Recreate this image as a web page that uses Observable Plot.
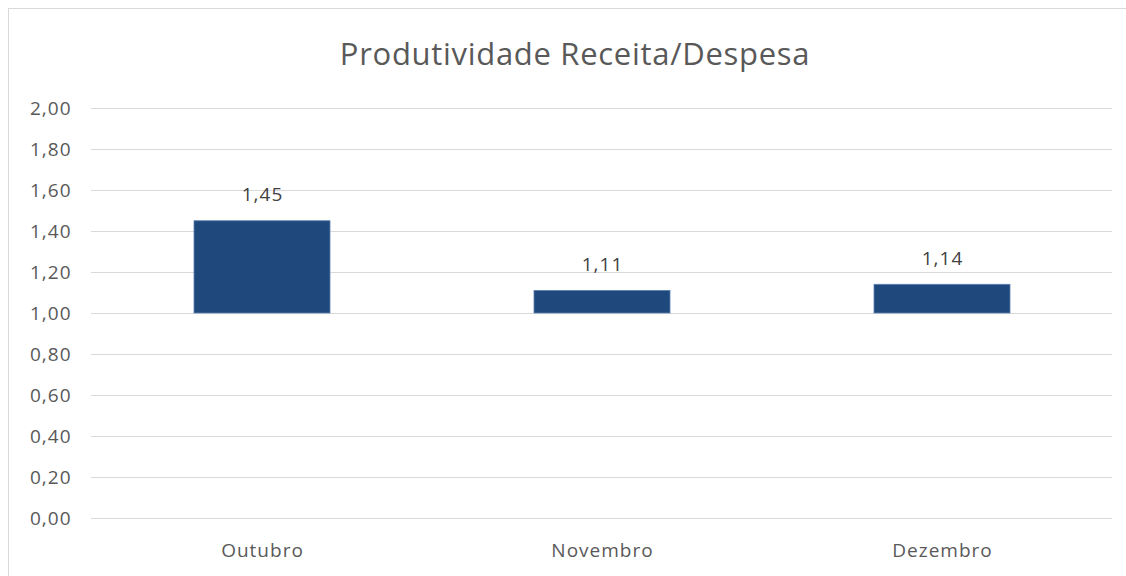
<!DOCTYPE html>
<html>
<head>
<meta charset="utf-8">
<script src="https://cdn.jsdelivr.net/npm/d3@7"></script>
<script src="https://cdn.jsdelivr.net/npm/@observablehq/plot@0.6"></script>
<style>
  html, body { margin: 0; padding: 0; background: #fff; width: 1126px; height: 576px; overflow: hidden; }
  #frame { position: absolute; left: 8px; top: 8px; width: 1200px; height: 600px; border: 1.5px solid #d9d9d9; box-sizing: border-box; }
  #title { position: absolute; left: 0; top: 32px; width: 1150px; text-align: center; font-family: "Open Sans", sans-serif; font-size: 31px; letter-spacing: 0.7px; color: #595959; line-height: 42px; }
  #chart { position: absolute; left: 0; top: 88px; }
</style>
</head>
<body>
<div id="frame"></div>
<div id="title">Produtividade Receita/Despesa</div>
<div id="chart"></div>
<script>
const months = ["Outubro", "Novembro", "Dezembro"];
const values = [1.45, 1.11, 1.14];
const yTicks = [0, 0.2, 0.4, 0.6, 0.8, 1.0, 1.2, 1.4, 1.6, 1.8, 2.0];
const baseline = 1.0;

const data = months.map((m, i) => ({month: m, value: values[i]}));
const fmt = d => d.toFixed(2).replace(".", ",");

const chart = Plot.plot({
  width: 1126,
  height: 488,
  marginTop: 20,
  marginBottom: 58,
  marginLeft: 91,
  marginRight: 14,
  style: {fontFamily: "Open Sans, sans-serif", fontSize: "19px", color: "#595959", background: "transparent", letterSpacing: "1px"},
  x: {domain: months, paddingInner: 0.6, paddingOuter: 0.3, label: null},
  y: {domain: [0, 2], ticks: yTicks, label: null},
  marks: [
    Plot.gridY(yTicks, {stroke: "#d9d9d9", strokeOpacity: 1, strokeWidth: 1.2}),
    Plot.axisY(yTicks, {tickSize: 0, tickPadding: 20, tickFormat: fmt, fill: "#595959", fontSize: 19}),
    Plot.axisX({tickSize: 0, tickPadding: 25, fill: "#595959", fontSize: 19}),
    Plot.barY(data, {x: "month", y1: baseline, y2: "value", fill: "#1f497d", stroke: "#5a7fae", strokeWidth: 0.8}),
    Plot.text(data, {x: "month", y: "value", text: d => fmt(d.value), dy: -26, fill: "#404040", fontSize: 19})
  ]
});
document.getElementById("chart").appendChild(chart);
</script>
</body>
</html>
